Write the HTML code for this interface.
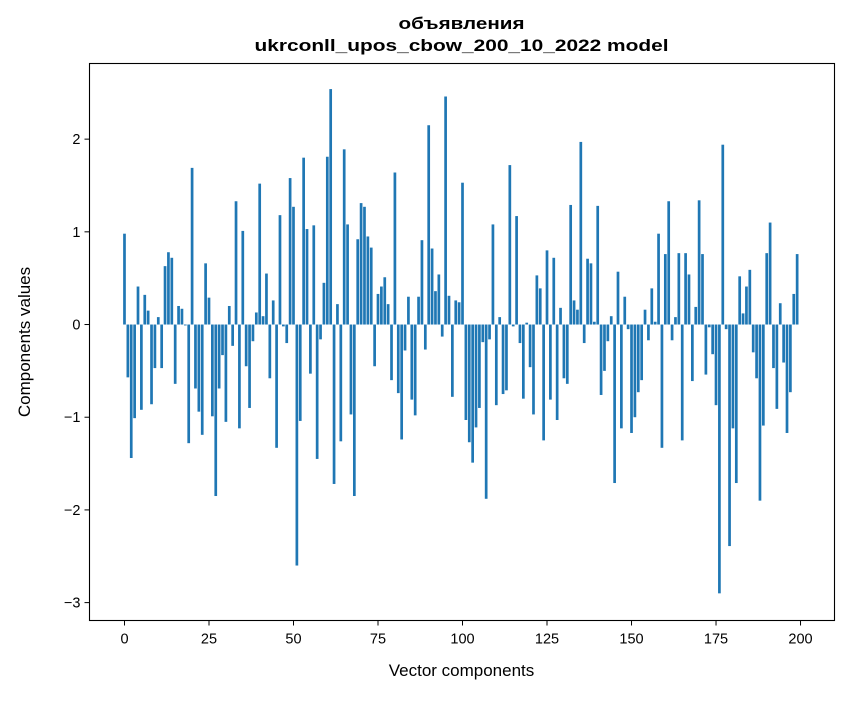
<!DOCTYPE html>
<html><head><meta charset="utf-8"><style>
html,body{margin:0;padding:0;background:#fff;}
svg text{font-family:"Liberation Sans",sans-serif;fill:#000;}
</style></head><body>
<svg id="chart" width="847" height="696" viewBox="0 0 847 696" xmlns="http://www.w3.org/2000/svg">
<rect x="0" y="0" width="847" height="696" fill="#fff"/>
<text x="461.5" y="29" text-anchor="middle" font-size="16.5" font-weight="bold" textLength="126" lengthAdjust="spacingAndGlyphs">объявления</text>
<text x="461.5" y="51" text-anchor="middle" font-size="16.5" font-weight="bold" textLength="414" lengthAdjust="spacingAndGlyphs">ukrconll_upos_cbow_200_10_2022 model</text>
<g id="bars"></g>
<g id="xticks"></g>
<g id="yticks"></g>
<rect x="89.5" y="63.5" width="745" height="557" fill="none" stroke="#000" stroke-width="1.1"/>
<text x="461.5" y="676" text-anchor="middle" font-size="17">Vector components</text>
<text transform="translate(30,342) rotate(-90)" text-anchor="middle" font-size="17">Components values</text>
</svg>
<script>
const values = [0.98,-0.57,-1.44,-1.01,0.41,-0.92,0.32,0.15,-0.86,-0.47,
0.08,-0.47,0.63,0.78,0.72,-0.64,0.2,0.17,-0.01,-1.28,
1.69,-0.69,-0.94,-1.19,0.66,0.29,-0.99,-1.85,-0.69,-0.33,
-1.05,0.2,-0.23,1.33,-1.12,1.01,-0.45,-0.9,-0.18,0.13,
1.52,0.09,0.55,-0.58,0.26,-1.33,1.18,-0.02,-0.2,1.58,
1.27,-2.6,-1.04,1.8,1.03,-0.53,1.07,-1.45,-0.16,0.45,
1.81,2.54,-1.72,0.22,-1.26,1.89,1.08,-0.97,-1.85,0.92,
1.31,1.27,0.95,0.83,-0.45,0.33,0.41,0.51,0.22,-0.6,
1.64,-0.74,-1.24,-0.28,0.3,-0.81,-0.98,0.3,0.91,-0.27,
2.15,0.82,0.36,0.54,-0.13,2.46,0.31,-0.78,0.26,0.24,
1.53,-1.03,-1.27,-1.49,-1.11,-0.9,-0.19,-1.88,-0.16,1.08,
-0.87,0.08,-0.75,-0.71,1.72,-0.02,1.17,-0.2,-0.8,0.02,
-0.46,-0.97,0.53,0.39,-1.25,0.8,-0.81,0.72,-1.03,0.18,
-0.58,-0.64,1.29,0.26,0.16,1.97,-0.2,0.71,0.66,0.03,
1.28,-0.76,-0.5,-0.18,0.09,-1.71,0.57,-1.12,0.3,-0.05,
-1.17,-1.0,-0.73,-0.6,0.16,-0.17,0.39,0.03,0.98,-1.33,
0.76,1.33,-0.17,0.08,0.77,-1.25,0.77,0.54,-0.61,0.19,
1.34,0.76,-0.54,-0.03,-0.32,-0.87,-2.9,1.94,-0.05,-2.39,
-1.12,-1.71,0.52,0.12,0.41,0.59,-0.3,-0.58,-1.9,-1.09,
0.77,1.1,-0.47,-0.91,0.23,-0.41,-1.17,-0.73,0.33,0.76];
const xTickValues = [0,25,50,75,100,125,150,175,200];
const yTickValues = [-3,-2,-1,0,1,2];
const yTickLabels = ["\u22123","\u22122","\u22121","0","1","2"];

const NS = "http://www.w3.org/2000/svg";
const L=89.5,R=834.5,T=63.5,B=620.5;
const xMin=-10.35, xMax=210.05, yMin=-3.193, yMax=2.816;
function xs(v){return L+(v-xMin)/(xMax-xMin)*(R-L);}
function ys(v){return B-(v-yMin)/(yMax-yMin)*(B-T);}
const barsG=document.getElementById('bars');
values.forEach((v,i)=>{
  const r=document.createElementNS(NS,'rect');
  const x0=xs(i-0.4), x1=xs(i+0.4);
  const y0=ys(Math.max(v,0)), y1=ys(Math.min(v,0));
  r.setAttribute('x',x0);r.setAttribute('width',x1-x0);
  r.setAttribute('y',y0);r.setAttribute('height',Math.max(y1-y0,0.3));
  r.setAttribute('fill','#1f77b4');
  
  
  barsG.appendChild(r);
});
const xg=document.getElementById('xticks');
xTickValues.forEach(t=>{
  const x=xs(t);
  const l=document.createElementNS(NS,'line');
  l.setAttribute('x1',x);l.setAttribute('x2',x);l.setAttribute('y1',B);l.setAttribute('y2',B+5);
  l.setAttribute('stroke','#000');
  
  
  xg.appendChild(l);
  const tx=document.createElementNS(NS,'text');
  tx.setAttribute('x',x);tx.setAttribute('y',B+23);tx.setAttribute('text-anchor','middle');tx.setAttribute('font-size','14.5');
  tx.textContent=String(t);
  
  
  xg.appendChild(tx);
});
const yg=document.getElementById('yticks');
yTickValues.forEach((t,i)=>{
  const y=ys(t);
  const l=document.createElementNS(NS,'line');
  l.setAttribute('x1',L-5);l.setAttribute('x2',L);l.setAttribute('y1',y);l.setAttribute('y2',y);
  l.setAttribute('stroke','#000');
  
  
  yg.appendChild(l);
  const tx=document.createElementNS(NS,'text');
  tx.setAttribute('x',L-9);tx.setAttribute('y',y+5);tx.setAttribute('text-anchor','end');tx.setAttribute('font-size','14.5');
  tx.textContent=yTickLabels[i];
  
  
  yg.appendChild(tx);
});
</script>
</body></html>
